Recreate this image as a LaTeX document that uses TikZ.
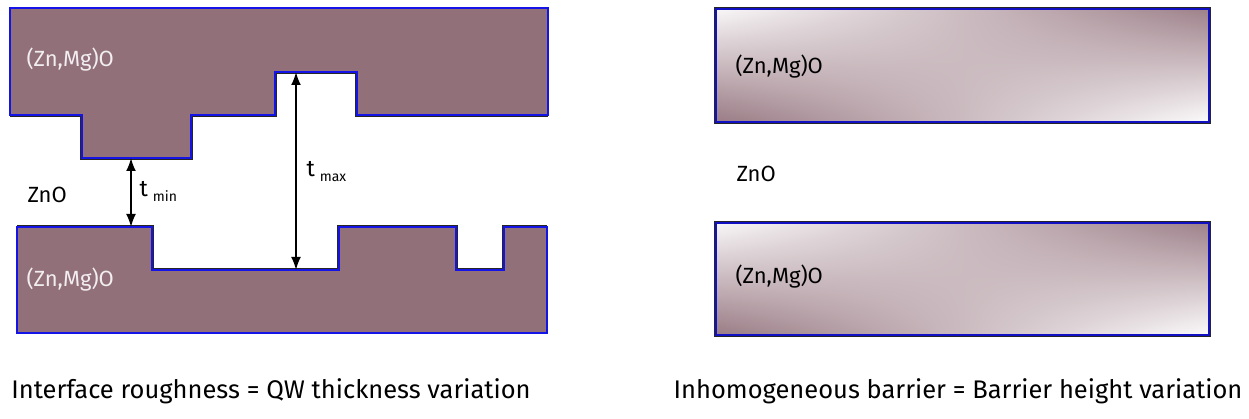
\documentclass[tikz,border=0pt]{standalone}
\usepackage{fontspec}
\setmainfont{Fira Sans}
\usetikzlibrary{arrows.meta}
\usetikzlibrary{shadings}
\tikzset{>={Latex[width=10pt,length=13pt]}}
\definecolor{mauve}{RGB}{145,112,122}
\definecolor{edgeblue}{RGB}{20,20,230}
\tikzset{
  layer/.style={fill=mauve, draw=edgeblue, line width=1.1pt},
  shadow/.style={draw=black!85, line width=3.2pt},
  barrier/.style={upper left=white!94!mauve, upper right=mauve!88,
    lower left=mauve!92, lower right=white!97!mauve},
  rim/.style={draw=edgeblue!85!black, line width=1.5pt},
  onlayer/.style={text=white!88!mauve, anchor=west, font=\fontsize{22}{22}\selectfont},
  label/.style={text=black, anchor=west, font=\fontsize{22}{22}\selectfont},
  tlabel/.style={text=black, anchor=west, font=\fontsize{23}{23}\selectfont},
  caption/.style={font=\fontsize{25.5}{25.5}\selectfont}
}
\newcommand{\thick}[1]{t\hspace{5pt}\raisebox{-5pt}{\fontsize{14}{14}\selectfont #1}}

\begin{document}
\begin{tikzpicture}[x=1pt,y=-1pt]
  \useasboundingbox (0,0) rectangle (1249,419);
  % Left: rough interfaces
  \draw[shadow] (10,115) -- (82,115) -- (82,158) -- (191,158) -- (191,115) -- (275,115)
    -- (275,72) -- (357,72) -- (357,115) -- (548,115);
  \draw[shadow] (17,227) -- (152,227) -- (152,270) -- (339,270) -- (339,227) -- (456,227)
    -- (456,270) -- (504,270) -- (504,227) -- (547,227);
  \draw[layer] (10,8) -- (548,8) -- (548,115) -- (357,115) -- (357,72) -- (275,72)
    -- (275,115) -- (191,115) -- (191,158) -- (82,158) -- (82,115) -- (10,115) -- cycle;
  \draw[layer] (17,227) -- (152,227) -- (152,270) -- (339,270) -- (339,227) -- (456,227)
    -- (456,270) -- (504,270) -- (504,227) -- (547,227) -- (547,333) -- (17,333) -- cycle;
  \node[onlayer] (topL) at (23,60) {(Zn,Mg)O};
  \node[onlayer] (botL) at (23,280) {(Zn,Mg)O};
  \node[label] (wellL) at (24,195) {ZnO};
  % Thickness arrows
  \coordinate (minTop) at (131,158);
  \coordinate (minBot) at (131,227);
  \coordinate (maxTop) at (296,72);
  \coordinate (maxBot) at (296,270);
  \draw[<->, line width=2pt] (minTop) -- (minBot);
  \draw[<->, line width=2pt] (maxTop) -- (maxBot);
  \node[tlabel] (tmin) at (136,191) {\thick{min}};
  \node[tlabel] (tmax) at (303,172) {\thick{max}};
  % Right: inhomogeneous barriers
  \draw[shadow] (716,9) rectangle (1209,122);
  \shade[barrier] (716,9) rectangle (1209,122);
  \draw[rim] (716,9) rectangle (1209,122);
  \draw[shadow] (716,223) rectangle (1209,335);
  \shade[barrier] (716,223) rectangle (1209,335);
  \draw[rim] (716,223) rectangle (1209,335);
  \node[label] (topR) at (732,67) {(Zn,Mg)O};
  \node[label] (wellR) at (733,174) {ZnO};
  \node[label] (botR) at (732,277) {(Zn,Mg)O};
  % Captions
  \node[caption] (capL) at (271,391) {Interface roughness = QW thickness variation};
  \node[caption] (capR) at (958,391) {Inhomogeneous barrier = Barrier height variation};
\end{tikzpicture}
\end{document}
